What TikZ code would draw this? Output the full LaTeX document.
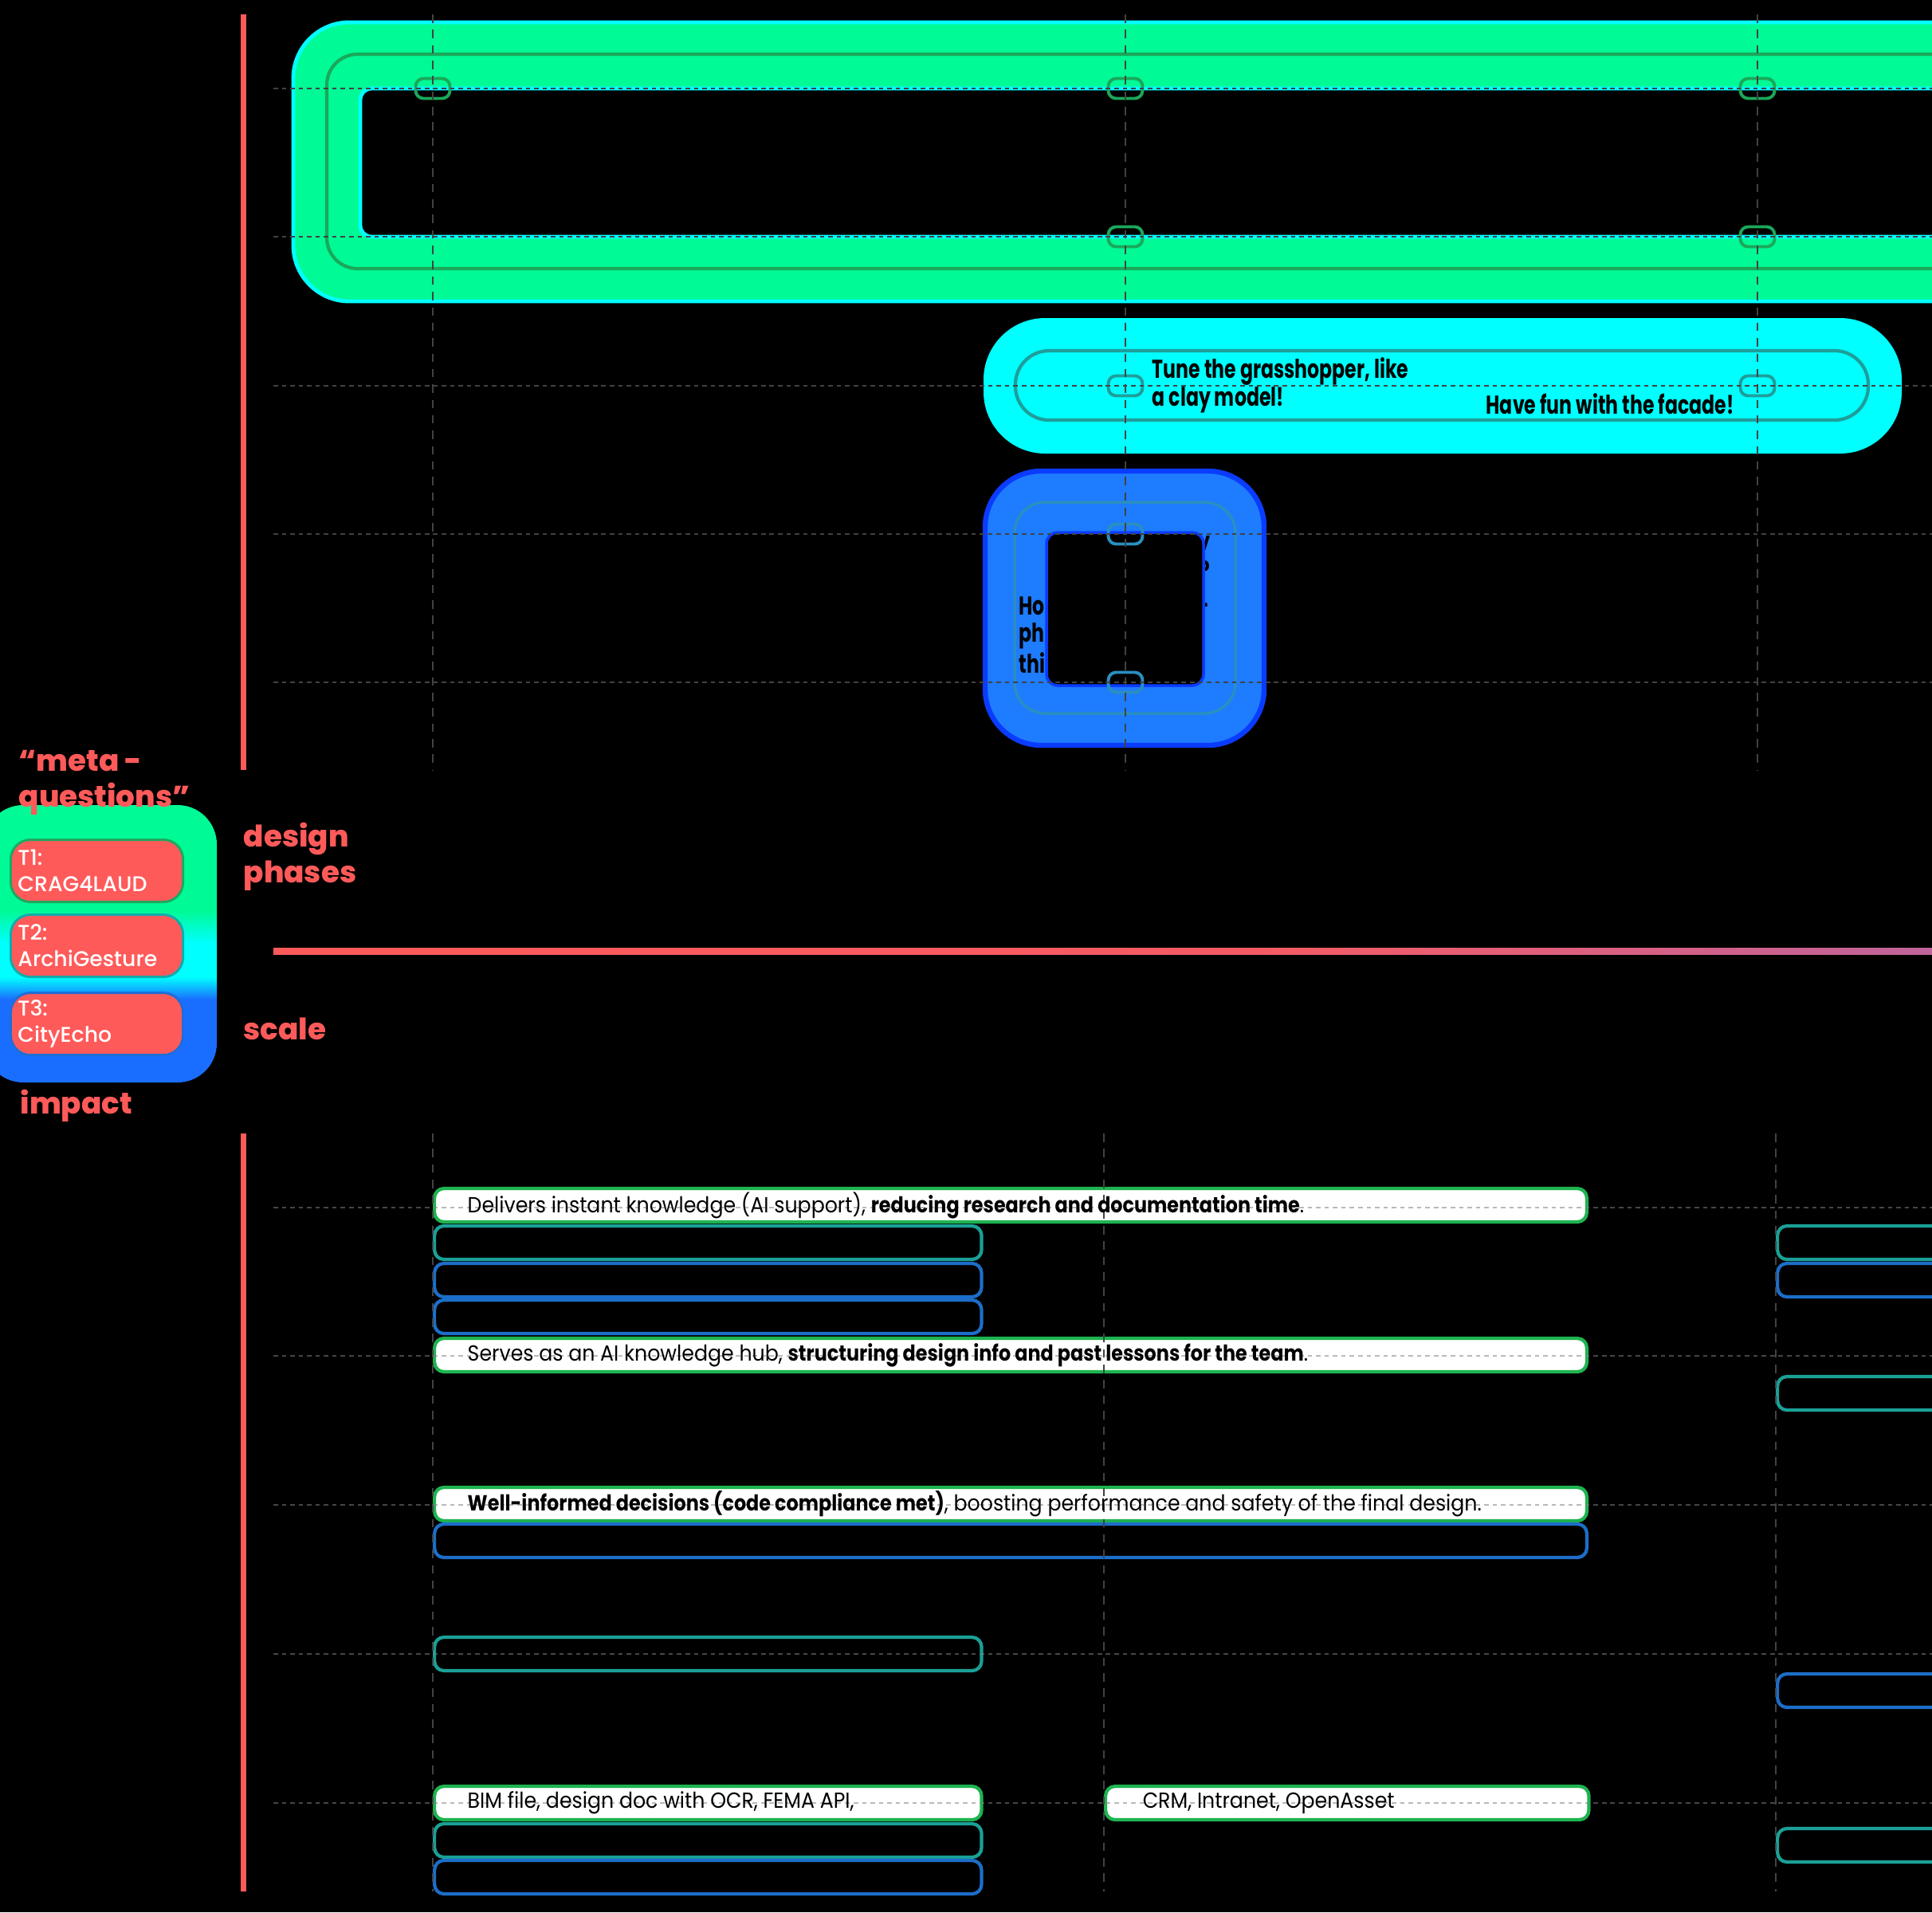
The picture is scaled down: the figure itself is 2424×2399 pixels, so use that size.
\documentclass[tikz,border=0pt]{standalone}
\usepackage{fontspec}
\setmainfont{Poppins}
\newfontfamily\headfont{Poppins ExtraBold}
\newfontfamily\tagfont{Poppins Medium}
\newfontfamily\lanefont{Poppins}[FakeStretch=0.73]
\newfontfamily\boxfont{Poppins}[UprightFeatures={FakeStretch=0.92}, BoldFeatures={FakeStretch=0.87}]
\usetikzlibrary{positioning}

\definecolor{metared}{HTML}{FF5A5A}
\definecolor{plumline}{HTML}{C0649C}
\definecolor{ringgreen}{HTML}{00FA96}
\definecolor{ringline}{HTML}{1AA85A}
\definecolor{lanecyan}{HTML}{00FFFF}
\definecolor{laneteal}{HTML}{1E9E9A}
\definecolor{squareblue}{HTML}{1E7CFF}
\definecolor{squareedge}{HTML}{0A3CFF}
\definecolor{squareline}{HTML}{2A8FC0}
\definecolor{glowblue}{HTML}{1A6EFF}
\definecolor{cellgreen}{HTML}{1EB450}
\definecolor{cellteal}{HTML}{1AA096}
\definecolor{cellblue}{HTML}{1C6EC8}
\definecolor{tonegreen}{HTML}{1EA860}
\definecolor{toneteal}{HTML}{14AAAA}
\definecolor{toneblue}{HTML}{1E6ED8}
\definecolor{gridgray}{HTML}{424242}

\pgfdeclareverticalshading{metaglow}{100bp}{color(0bp)=(glowblue); color(40bp)=(glowblue); color(44bp)=(lanecyan); color(50bp)=(lanecyan); color(56bp)=(ringgreen); color(100bp)=(ringgreen)}
\pgfdeclarehorizontalshading{redfade}{100bp}{color(0bp)=(metared); color(25bp)=(metared); color(55bp)=(metared!85!plumline); color(75bp)=(plumline); color(100bp)=(plumline)}

\tikzset{
  grid row/.style={gridgray, line width=0.7pt, dash pattern=on 1.6pt off 1.4pt},
  grid col/.style={gridgray, line width=0.5pt, dash pattern=on 3pt off 2.5pt},
  impact row/.style={gray, draw opacity=0.55, line width=0.6pt, dash pattern=on 1.6pt off 1.4pt},
  phase pill/.style={draw=#1, line width=1.1pt, rounded corners=2.8pt, minimum width=0.43cm, minimum height=0.25cm, inner sep=0pt},
  cell/.style={rounded corners=3.4pt, line width=1.2pt, minimum height=0.42cm, inner sep=0pt, anchor=west},
  whitecell/.style={cell, draw=cellgreen, fill=white, minimum width=#1},
  tealcell/.style={cell, draw=cellteal, minimum width=#1},
  bluecell/.style={cell, draw=cellblue, minimum width=#1},
  celltext/.style={inner sep=0pt, text=black, font=\boxfont\fontsize{7.8}{9}\selectfont},
  tbox/.style={draw=#1, fill=metared, line width=0.85pt, rounded corners=7pt, minimum height=0.78cm, text width=1.98cm, inner xsep=0.09cm, inner ysep=0pt, align=left, text=white, font=\tagfont\fontsize{7.6}{9.4}\selectfont},
  heading/.style={metared, font=\headfont\fontsize{10.6}{13}\selectfont, align=left, anchor=north west, inner sep=0pt},
  lanetext/.style={black, font=\lanefont\bfseries\fontsize{9.2}{9.8}\selectfont, align=left, inner sep=0pt},
}

\begin{document}
\begin{tikzpicture}[x=0.01cm, y=-0.01cm]
    \useasboundingbox (0,0) rectangle (2424,2399);
    \fill[black] (0,0) rectangle (2424,2399);
    \clip (0,0) rectangle (2424,2399);

    % Axis lines
    \fill[metared] (302,18) rectangle (309,966);
    \fill[metared] (302,1422) rectangle (309,2373);
    \shade[shading=redfade] (343,1189) rectangle (2424,1197);

    % Design phase ring
    \draw[lanecyan, line width=1.4pt, fill=ringgreen, rounded corners=20pt] (368,28) rectangle (2600,378);
    \draw[lanecyan, line width=1.4pt, fill=black, rounded corners=4pt] (452,111) rectangle (2600,297);
    \draw[ringline, line width=1.2pt, rounded corners=11pt] (410,68) rectangle (2600,337);

    % Cyan lane
    \fill[lanecyan, rounded corners=22pt] (1234,399) rectangle (2386,569);
    \draw[laneteal, line width=1.2pt, rounded corners=12pt] (1274,440) rectangle (2344,527);
    \node[lanetext, anchor=north west] (tune) at (1445,448) {Tune the grasshopper, like\\a clay model!};
    \node[lanetext, anchor=north west] (facade) at (1864,493) {Have fun with the facade!};

    % Blue square
    \draw[squareedge, line width=1.8pt, fill=squareblue, rounded corners=20pt] (1236,591) rectangle (1586,935);
    \draw[squareline, line width=1pt, rounded corners=11pt] (1273,630) rectangle (1550,895);
    \node[lanetext, anchor=base west] (sqleft) at (1278,844) {Ho\\ph\\thi};
    \node[lanetext, anchor=base east] (sqy) at (1519,690) {y};
    \node[lanetext, anchor=base east] (sqq) at (1519,727) {?};
    \node[lanetext, anchor=base east] (sqdash) at (1518,770) {-};
    \draw[squareedge, line width=1pt, fill=black, rounded corners=4pt] (1313,668) rectangle (1510,860);

    % Pills
    \foreach \px/\py/\pc [count=\i] in {543/111/ringline, 1412/111/ringline, 2205/111/ringline, 1412/297/ringline, 2205/297/ringline, 1412/484/laneteal, 2205/484/laneteal, 1412/670/squareline, 1412/856/squareline}
        \node[phase pill=\pc] (pill\i) at (\px,\py) {};

    % Meta-questions panel
    \shade[shading=metaglow, rounded corners=14pt] (-20,1010) rectangle (272,1358);
    \node[tbox=tonegreen, anchor=north west] (t1) at (12,1052) {T1:\\CRAG4LAUD};
    \node[tbox=toneteal, below=0.13cm of t1] (t2) {T2:\\ArchiGesture};
    \node[tbox=toneblue, below=0.17cm of t2] (t3) {T3:\\CityEcho};

    \node[heading] (metaq) at (23,940) {“meta -\\questions”};
    \node[heading] (designph) at (305,1031) {design\\phases};
    \node[heading] (scalelbl) at (305,1276) {scale};
    \node[heading] (impactlbl) at (25,1366) {impact};

    % Impact rows
    \node[whitecell=14.45cm] (r1a) at (543,1512) {};
    \node[tealcell=6.86cm] (r1b) at (543,1559) {};
    \node[bluecell=6.86cm] (r1c) at (543,1606) {};
    \node[bluecell=6.86cm] (r1d) at (543,1652) {};
    \node[tealcell=3cm] (r1e) at (2228,1559) {};
    \node[bluecell=3cm] (r1f) at (2228,1606) {};

    \node[whitecell=14.45cm] (r2a) at (543,1700) {};
    \node[tealcell=3cm] (r2b) at (2228,1748) {};

    \node[whitecell=14.45cm] (r3a) at (543,1887) {};
    \node[bluecell=14.45cm] (r3b) at (543,1933) {};

    \node[tealcell=6.86cm] (r4a) at (543,2075) {};
    \node[bluecell=3cm] (r4b) at (2228,2121) {};

    \node[whitecell=6.86cm] (r5a) at (543,2262) {};
    \node[tealcell=6.86cm] (r5b) at (543,2309) {};
    \node[bluecell=6.86cm] (r5c) at (543,2355) {};
    \node[whitecell=6.06cm] (r5d) at (1385,2262) {};
    \node[tealcell=3cm] (r5e) at (2228,2315) {};

    % Grid
    \foreach \gx in {543,1412,2205} \draw[grid col] (\gx,18) -- (\gx,966);
    \foreach \gy in {111,297,484,670,856} \draw[grid row] (343,\gy) -- (2424,\gy);
    \foreach \gx in {543,1385,2228} \draw[grid col] (\gx,1422) -- (\gx,2373);
    \foreach \gy in {1515,1701,1888,2075,2262} \draw[impact row] (343,\gy) -- (2424,\gy);

    % Impact texts
    \node[celltext, right=0.43cm of r1a.west] (r1atext) {Delivers instant knowledge (AI support), \textbf{reducing research and documentation time}.};
    \node[celltext, right=0.43cm of r2a.west] (r2atext) {Serves as an AI knowledge hub, \textbf{structuring design info and past lessons for the team}.};
    \node[celltext, right=0.43cm of r3a.west] (r3atext) {\textbf{Well-informed decisions (code compliance met)}, boosting performance and safety of the final design.};
    \node[celltext, right=0.43cm of r5a.west] (r5atext) {BIM file, design doc with OCR, FEMA API,};
    \node[celltext, right=0.48cm of r5d.west] (r5dtext) {CRM, Intranet, OpenAsset};
\end{tikzpicture}
\end{document}
